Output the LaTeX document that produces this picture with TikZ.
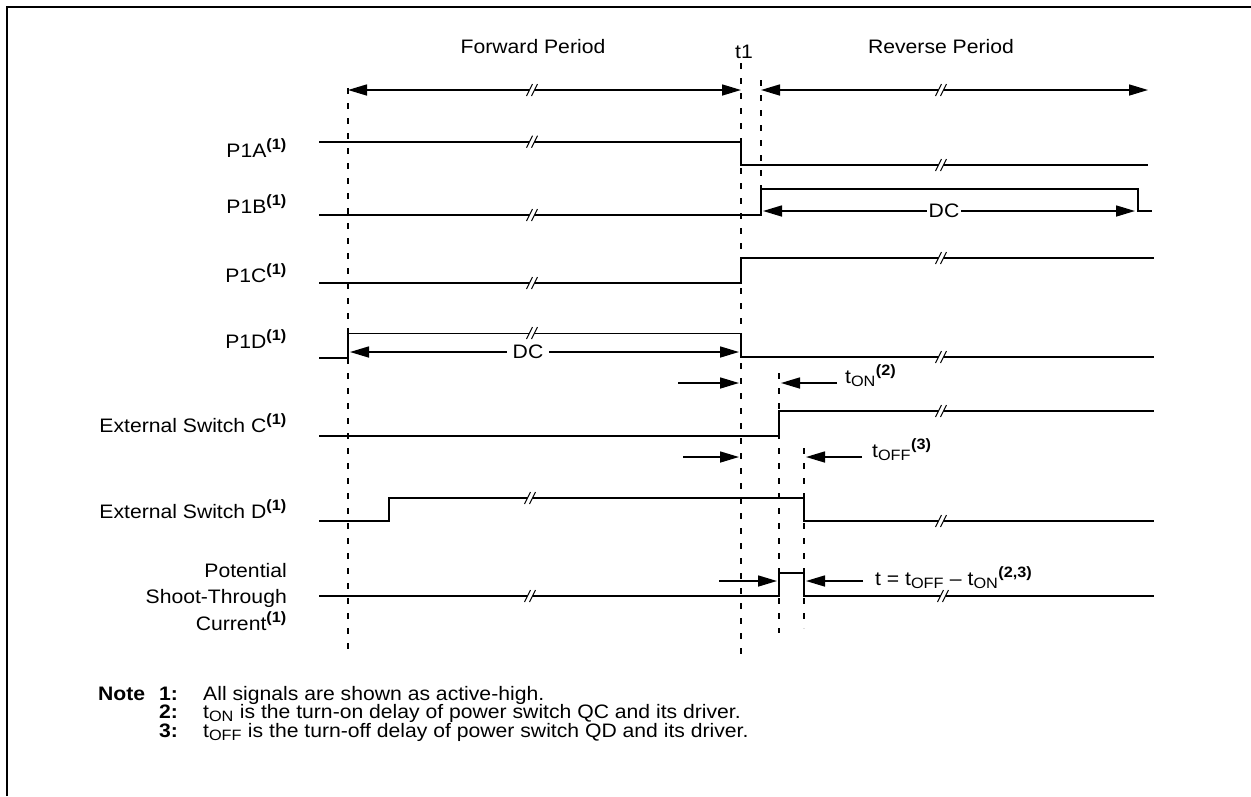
\documentclass[tikz,border=0pt]{standalone}
\usepackage{fontspec}
\setmainfont[FakeStretch=1.085]{Liberation Sans}
\usetikzlibrary{arrows.meta}
\newcommand\supb[1]{\textsuperscript{\fontsize{15}{15}\selectfont\bfseries #1}}
\newcommand\subn[1]{\textsubscript{\fontsize{15}{15}\selectfont #1}}
\newcommand\lfont{\fontsize{19.5}{26.5}\selectfont}
\begin{document}
\begin{tikzpicture}[x=1pt,y=-1pt,
  sig/.style={line width=2pt},
  thinsig/.style={line width=1pt},
  guide/.style={line width=1.4pt, dash pattern=on 6pt off 9pt},
  arr/.style={-{Triangle[length=19pt,width=11pt]}},
  arrboth/.style={{Triangle[length=19pt,width=11pt]}-{Triangle[length=19pt,width=11pt]}},
  dimline/.style={line width=1.6pt},
  lbl/.style={font=\lfont, inner sep=0pt},
  brk/.pic={
    \fill[white] (-5.5,6) -- (0.5,-6) -- (5.5,-6) -- (-0.5,6) -- cycle;
    \draw[line width=1pt] (-5.5,6) -- (0.5,-6) (-0.5,6) -- (5.5,-6);
  }]
\useasboundingbox (0,0) rectangle (1251,796);
\fill[white] (0,0) rectangle (1251,796);
% frame
\draw[line width=2.5pt] (7,796) -- (7,7) -- (1251,7);

% titles
\node[lbl] (fwd) at (533,47) {Forward Period};
\node[lbl] (tone) at (744,52) {t1};
\node[lbl] (rev) at (941,47) {Reverse Period};

% period arrows
\draw[dimline, arrboth] (348,90) -- (741,90);
\pic at (532,90) {brk};
\draw[dimline, arrboth] (761,90) -- (1148,90);
\pic at (941,90) {brk};

% dashed guides
\draw[guide] (348,88) -- (348,655);
\draw[guide] (741,63) -- (741,655);
\draw[guide] (761,80) -- (761,190);
\draw[guide] (779,373) -- (779,633);
\draw[guide] (804,448) -- (804,628);

% signal labels
\node[lbl, anchor=base east] (lA) at (287,157) {P1A\supb{(1)}};
\node[lbl, anchor=base east] (lB) at (287,213) {P1B\supb{(1)}};
\node[lbl, anchor=base east] (lC) at (287,282) {P1C\supb{(1)}};
\node[lbl, anchor=base east] (lD) at (287,348) {P1D\supb{(1)}};
\node[lbl, anchor=base east] (lEC) at (287,432) {External Switch C\supb{(1)}};
\node[lbl, anchor=base east] (lED) at (287,518) {External Switch D\supb{(1)}};
\node[lbl, anchor=base east] (lST1) at (287,577) {Potential};
\node[lbl, anchor=base east] (lST2) at (287,603) {Shoot-Through};
\node[lbl, anchor=base east] (lST3) at (287,630) {Current\supb{(1)}};

% P1A
\draw[sig] (319,141.7) -- (741,141.7) -- (741,165) -- (1148,165);
\pic at (532,141.7) {brk};
\pic at (941,165) {brk};

% P1B
\draw[sig] (319,215) -- (761,215) -- (761,189) -- (1138,189) -- (1138,211) -- (1152,211);
\pic at (532,215) {brk};
\draw[dimline, arrboth] (763,211) -- (1135,211);
\node[lbl, fill=white, inner xsep=2pt, inner ysep=2pt] (dcB) at (944,211) {DC};

% P1C
\draw[sig] (319,283) -- (741,283) -- (741,258) -- (1154,258);
\pic at (532,283) {brk};
\pic at (941,258) {brk};

% P1D
\draw[sig] (319,358) -- (348,358) -- (348,333);
\draw[thinsig] (348,333) -- (741,333);
\draw[sig] (741,333) -- (741,357) -- (1154,357);
\pic at (532,333) {brk};
\pic at (941,357) {brk};
\draw[dimline, arrboth] (350,352) -- (739,352);
\node[lbl, fill=white, inner xsep=6pt, inner ysep=2pt] (dcD) at (528,352) {DC};

% t_ON
\draw[dimline, arr] (678,383) -- (739,383);
\draw[dimline, arr] (837,383) -- (781,383);
\node[lbl, anchor=base west] (ton) at (845,383) {t\subn{ON}\supb{(2)}};

% External Switch C
\draw[sig] (319,436) -- (779,436) -- (779,411) -- (1154,411);
\pic at (941,411) {brk};

% t_OFF
\draw[dimline, arr] (683,457) -- (739,457);
\draw[dimline, arr] (862,457) -- (806,457);
\node[lbl, anchor=base west] (toff) at (872,457) {t\subn{OFF}\supb{(3)}};

% External Switch D
\draw[sig] (319,521) -- (389,521) -- (389,498) -- (804,498) -- (804,521) -- (1154,521);
\pic at (530,498) {brk};
\pic at (941,521) {brk};

% Shoot-through
\draw[sig] (319,596) -- (779,596) -- (779,573) -- (804,573) -- (804,596) -- (1154,596);
\pic at (530,596) {brk};
\pic at (943,596) {brk};
\draw[dimline, arr] (719,581) -- (777,581);
\draw[dimline, arr] (863,581) -- (806,581);
\node[lbl, anchor=base west] (tst) at (875,585) {t = t\subn{OFF} -- t\subn{ON}\supb{(2,3)}};

% notes
\node[lbl, anchor=base west] (note) at (98,700) {\bfseries Note};
\node[lbl, anchor=base west] (n1) at (159,700) {\bfseries 1:};
\node[lbl, anchor=base west] (n2) at (159,718.5) {\bfseries 2:};
\node[lbl, anchor=base west] (n3) at (159,737) {\bfseries 3:};
\node[lbl, anchor=base west] (t1n) at (203,700) {All signals are shown as active-high.};
\node[lbl, anchor=base west] (t2n) at (203,718.5) {t\subn{ON} is the turn-on delay of power switch QC and its driver.};
\node[lbl, anchor=base west] (t3n) at (203,737) {t\subn{OFF} is the turn-off delay of power switch QD and its driver.};
\end{tikzpicture}
\end{document}
